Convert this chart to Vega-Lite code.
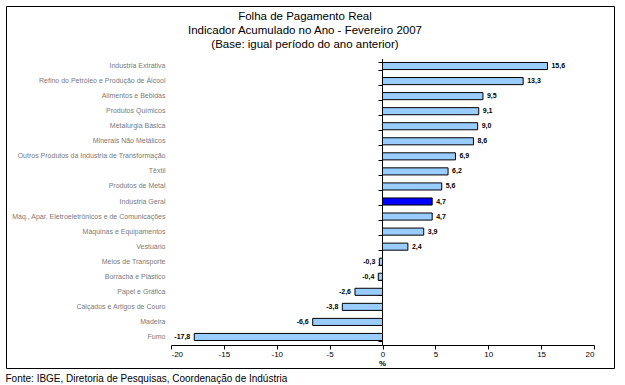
{
  "$schema": "https://vega.github.io/schema/vega-lite/v6.json",
  "width": 608,
  "height": 362,
  "autosize": {"type": "none"},
  "padding": {"left": 6, "top": 6, "right": 11, "bottom": 17},
  "background": "white",
  "config": {
    "view": {"stroke": "black", "strokeWidth": 1},
    "locale": {"number": {"decimal": ",", "thousands": ".", "grouping": [3], "currency": ["", ""], "minus": "-"}},
    "font": "Liberation Sans"
  },
  "title": {
    "text": ["Folha de Pagamento Real", "Indicador Acumulado no Ano - Fevereiro 2007", "(Base: igual período do ano anterior)"],
    "frame": "group",
    "anchor": "middle",
    "offset": -44,
    "dx": -5,
    "fontSize": 11.5,
    "fontWeight": "normal",
    "lineHeight": 14,
    "font": "Liberation Sans",
    "color": "black"
  },
  "data": {
    "values": [
      {"cat": "Industria Extrativa", "v": 15.6},
      {"cat": "Refino do Petróleo e Produção de Álcool", "v": 13.3},
      {"cat": "Alimentos e Bebidas", "v": 9.5},
      {"cat": "Produtos Químicos", "v": 9.1},
      {"cat": "Metalurgia Básica", "v": 9.0},
      {"cat": "Minerais Não Metálicos", "v": 8.6},
      {"cat": "Outros Produtos da Industria de Transformação", "v": 6.9},
      {"cat": "Têxtil", "v": 6.2},
      {"cat": "Produtos de Metal", "v": 5.6},
      {"cat": "Industria Geral", "v": 4.7},
      {"cat": "Máq., Apar. Eletroeletrônicos e de Comunicações", "v": 4.7},
      {"cat": "Máquinas e Equipamentos", "v": 3.9},
      {"cat": "Vestuário", "v": 2.4},
      {"cat": "Meios de Transporte", "v": -0.3},
      {"cat": "Borracha e Plástico", "v": -0.4},
      {"cat": "Papel e Gráfica", "v": -2.6},
      {"cat": "Calçados e Artigos de Couro", "v": -3.8},
      {"cat": "Madeira", "v": -6.6},
      {"cat": "Fumo", "v": -17.8}
    ]
  },
  "encoding": {
    "y": {
      "field": "cat", "type": "nominal", "sort": null,
      "scale": {
        "domain": ["Industria Extrativa", "Refino do Petróleo e Produção de Álcool", "Alimentos e Bebidas", "Produtos Químicos", "Metalurgia Básica", "Minerais Não Metálicos", "Outros Produtos da Industria de Transformação", "Têxtil", "Produtos de Metal", "Industria Geral", "Máq., Apar. Eletroeletrônicos e de Comunicações", "Máquinas e Equipamentos", "Vestuário", "Meios de Transporte", "Borracha e Plástico", "Papel e Gráfica", "Calçados e Artigos de Couro", "Madeira", "Fumo"],
        "range": [52.5, 338.5], "paddingInner": 0.53, "paddingOuter": 0.265
      }
    },
    "x": {
      "field": "v", "type": "quantitative",
      "scale": {"domain": [-20, 20], "range": [165, 588], "nice": false, "zero": false}
    }
  },
  "layer": [
    {
      "mark": {"type": "bar", "stroke": "black", "strokeWidth": 1},
      "encoding": {
        "fill": {"condition": {"test": "datum.cat === 'Industria Geral'", "value": "#0000ff"}, "value": "#99ccff"},
        "y": {
          "field": "cat", "type": "nominal", "sort": null,
          "axis": {"orient": "left", "offset": -165, "domain": false, "ticks": false, "labelPadding": 6, "labelFontSize": 7, "labelColor": "#7a7a7a", "title": null, "labelLimit": 300}
        },
        "x": {
          "field": "v", "type": "quantitative",
          "axis": {"orient": "bottom", "offset": -23, "values": [-20, -15, -10, -5, 0, 5, 10, 15, 20], "format": "d", "tickSize": 4, "labelPadding": 1, "labelFontSize": 8, "labelColor": "black", "domainColor": "black", "tickColor": "black", "grid": false, "title": "%", "titleX": 376, "titleY": 18, "titleBaseline": "middle", "titleFontSize": 8, "titleFontWeight": "bold", "titleColor": "black"}
        }
      }
    },
    {
      "transform": [{"filter": "datum.v >= 0"}],
      "mark": {"type": "text", "align": "left", "dx": 4, "fontSize": 7, "fontWeight": "bold", "color": "black"},
      "encoding": {
        "text": {"field": "v", "type": "quantitative", "format": ".1f"},
        "y": {
          "field": "cat", "type": "nominal", "sort": null,
          "axis": {"orient": "left", "offset": -376, "labels": false, "domain": true, "domainColor": "black", "ticks": true, "tickBand": "extent", "tickSize": 4, "tickColor": "black", "title": null, "grid": false}
        },
        "x": {
          "field": "v", "type": "quantitative",
          "axis": {"orient": "bottom", "domain": false, "ticks": false, "labels": false, "grid": false, "title": "Fonte: IBGE, Diretoria de Pesquisas, Coordenação de Indústria", "titleX": -1, "titleY": 10, "titleAlign": "left", "titleAnchor": "start", "titleBaseline": "middle", "titleFontSize": 10, "titleFontWeight": "normal", "titleColor": "black"}
        }
      }
    },
    {
      "transform": [{"filter": "datum.v < 0"}],
      "mark": {"type": "text", "align": "right", "dx": -4, "fontSize": 7, "fontWeight": "bold", "color": "black"},
      "encoding": {
        "text": {"field": "v", "type": "quantitative", "format": ".1f"},
        "y": {"field": "cat", "type": "nominal", "sort": null, "axis": null},
        "x": {"field": "v", "type": "quantitative", "axis": null}
      }
    }
  ],
  "resolve": {"axis": {"x": "independent", "y": "independent"}}
}
